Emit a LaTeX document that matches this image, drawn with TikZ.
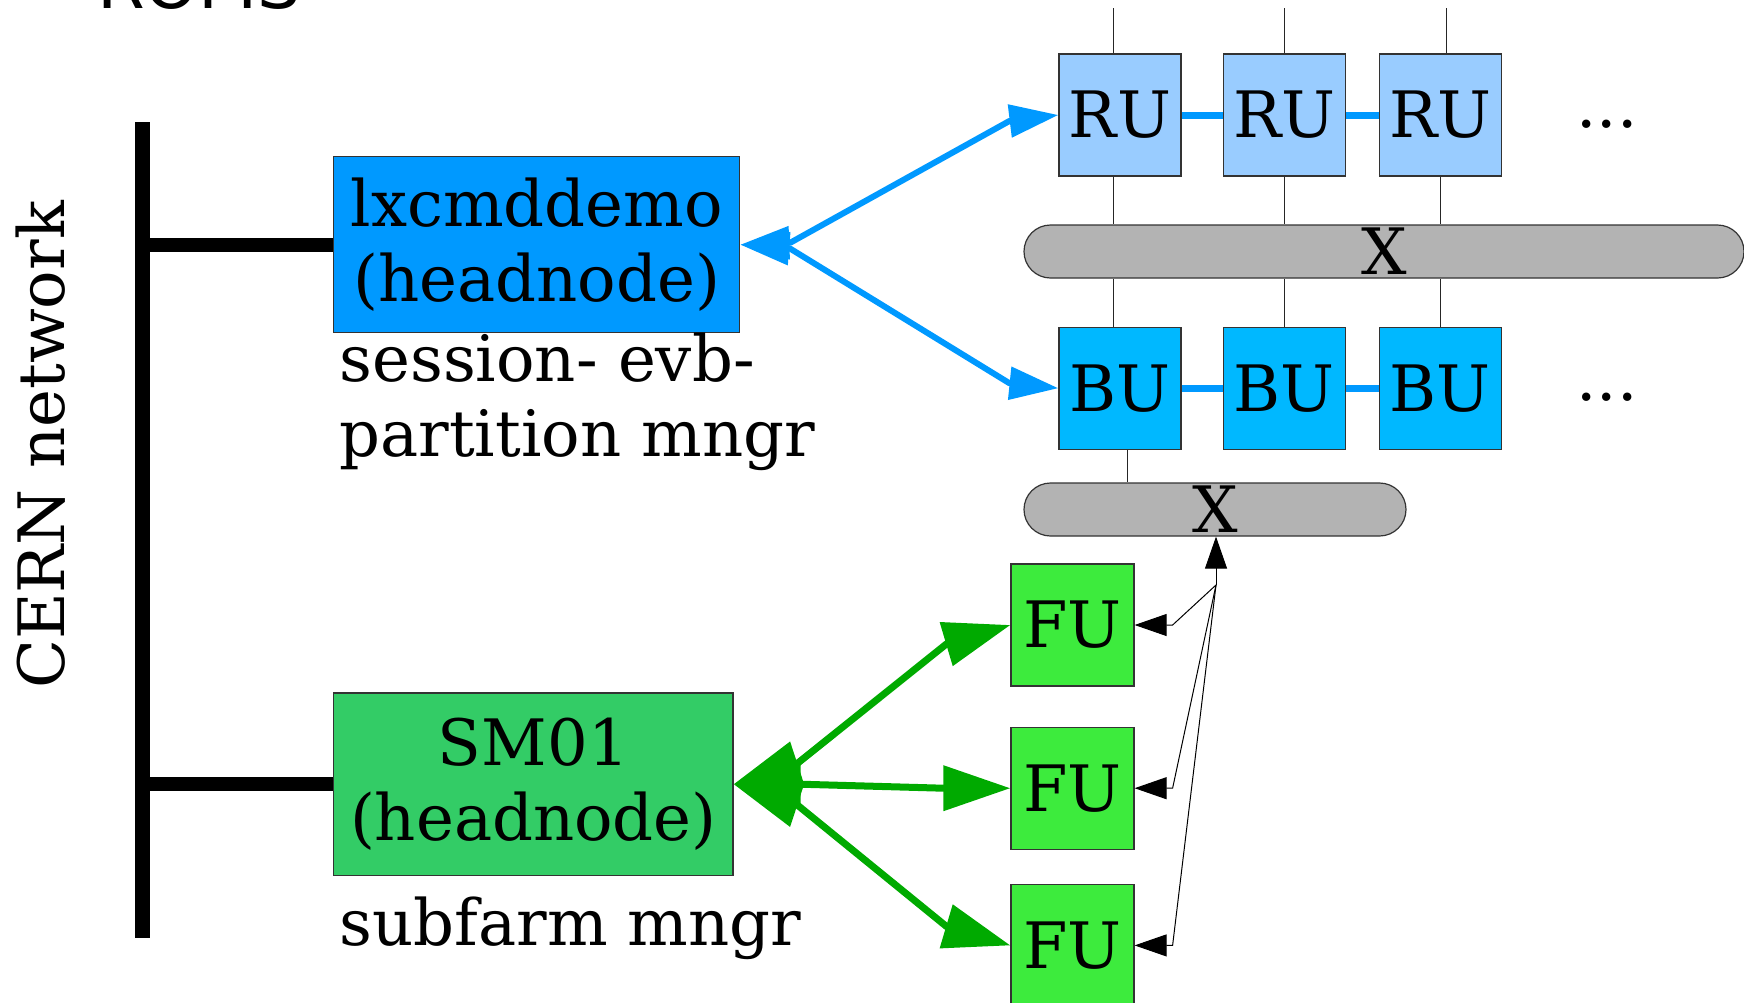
\documentclass[tikz,border=0pt]{standalone}
\usepackage{fontspec}
\setmainfont{DejaVu Serif}
\newfontfamily\romsfont{DejaVu Sans}
\usepackage{xcolor}
\usepackage{tikz}
\usetikzlibrary{shapes,arrows.meta,positioning,calc}
\definecolor{headblue}{HTML}{0099FF}
\definecolor{headgreen}{HTML}{33CC66}
\definecolor{rublue}{HTML}{99CCFF}
\definecolor{bublue}{HTML}{00B8FF}
\definecolor{fugreen}{HTML}{3DEB3D}
\definecolor{arrowgreen}{HTML}{00AA00}
\definecolor{switchgray}{HTML}{B3B3B3}
\tikzstyle{unit} = [draw=black!80, line width=0.6pt, rectangle,
    minimum width=61pt, minimum height=61pt, inner sep=0pt]
\tikzstyle{headbox} = [unit, align=center]
\tikzstyle{switch} = [draw=black!80, line width=0.6pt, rounded rectangle,
    fill=switchgray, minimum height=26.5pt, inner sep=0pt]
\tikzstyle{wire} = [line width=0.5pt, black!85]
\tikzstyle{chain} = [line width=3.5pt, headblue]
\tikzstyle{backbone} = [line width=7.5pt, black]
\tikzstyle{stub} = [line width=7pt, black]
\tikzstyle{ctrl} = [{Triangle[length=24.5pt,width=16pt]}-{Triangle[length=24.5pt,width=16pt]},
    line width=3pt, line join=round, headblue]
\tikzstyle{farm} = [{Triangle[length=33.5pt,width=22pt]}-{Triangle[length=33.5pt,width=22pt]},
    line width=3.5pt, line join=round, arrowgreen]
\tikzstyle{feed} = [-{Triangle[length=16pt,width=11pt]}, line width=0.5pt, black]
\begin{document}
\begin{tikzpicture}[x=0.5pt, y=-0.5pt, font=\fontsize{32}{37.6}\selectfont]
		\useasboundingbox (0,0) rectangle (1744,1002);
		\node[anchor=base west, font=\romsfont\fontsize{34.3}{40}\selectfont] (roms) at (90,8) {ROMS};
		\node[rotate=90] (cern) at (41,445) {CERN network};
		\coordinate (bartop) at (142,122);
		\coordinate (barbot) at (142,938);
		\coordinate (edge) at (0,8);
		
		\node[headbox, fill=headblue, minimum width=203pt, minimum height=88pt] (lx) at (536.7,244.7) {lxcmddemo\\(headnode)};
		\node[below right=-0.5pt and 3pt of lx.south west, align=left, inner sep=0pt] (lxrole) {session- evb-\\partition mngr};
		\node[headbox, fill=headgreen, minimum width=199.6pt, minimum height=91.2pt] (sm) at (533.4,784.2) {SM01\\(headnode)};
		\node[below right=10pt and 3pt of sm.south west, inner sep=0pt] (smrole) {subfarm mngr};
		
		\node[unit, fill=rublue] (ru1) at (1120,115) {RU};
		\node[unit, fill=rublue, right=20.5pt of ru1] (ru2) {RU};
		\node[unit, fill=rublue, right=16.5pt of ru2] (ru3) {RU};
		\node[inner sep=0pt, right=37pt of ru3, yshift=-4.5pt] (rudots) {...};
		\node[switch, minimum width=360pt] (xb1) at (1384,251.5) {X};
		\node[unit, fill=bublue, below=75pt of ru1] (bu1) {BU};
		\node[unit, fill=bublue, below=75pt of ru2] (bu2) {BU};
		\node[unit, fill=bublue, below=75pt of ru3] (bu3) {BU};
		\node[inner sep=0pt, right=37pt of bu3, yshift=-4.5pt] (budots) {...};
		\node[switch, minimum width=191pt] (xb2) at (1215,509.5) {X};
		
		\node[unit, fill=fugreen, minimum width=61.5pt] (fu1) at (1072.5,625) {FU};
		\node[unit, fill=fugreen, minimum width=61.5pt, below=20pt of fu1] (fu2) {FU};
		\node[unit, fill=fugreen, minimum width=61.5pt, below=17pt of fu2] (fu3) {FU};
		\coordinate (hub) at (1216,585);
		
		% network backbone
		\draw[backbone] (bartop) -- (barbot);
		\draw[stub] (lx.west) -- (lx.west -| bartop);
		\draw[stub] (sm.west) -- (sm.west -| bartop);
		
		% readout and builder rows
		\draw[wire] ([xshift=-3.5pt]ru1.north) -- ([xshift=-3.5pt]ru1.north |- edge);
		\draw[wire] (ru2.north) -- (ru2.north |- edge);
		\draw[wire] ([xshift=3pt]ru3.north) -- ([xshift=3pt]ru3.north |- edge);
		\foreach \u/\s in {1/-3.5pt, 2/0pt, 3/0pt} {
			\draw[wire] ([xshift=\s]ru\u.south) -- ([xshift=\s]ru\u.south |- xb1.north);
			\draw[wire] ([xshift=\s]bu\u.north |- xb1.south) -- ([xshift=\s]bu\u.north);
		}
		\draw[wire] ([xshift=3.5pt]bu1.south) -- ([xshift=3.5pt]bu1.south |- xb2.north);
		\draw[chain] (ru1) -- (ru2);
		\draw[chain] (ru2) -- (ru3);
		\draw[chain] (bu1) -- (bu2);
		\draw[chain] (bu2) -- (bu3);
		\draw[ctrl] (lx.east) -- ++(50,-2) -- ($(ru1.west)+(-49,6)$) -- (ru1.west);
		\draw[ctrl] (lx.east) -- ++(50,4) -- ($(bu1.west)+(-49,-5)$) -- (bu1.west);
		
		% filter farm
		\draw[farm] (sm.east) -- ++(64,-21) -- ($(fu1.west)+(-64,19)$) -- (fu1.west);
		\draw[farm] (sm.east) -- ++(67,0) -- ($(fu2.west)+(-67,0)$) -- (fu2.west);
		\draw[farm] (sm.east) -- ++(64,21) -- ($(fu3.west)+(-64,-19)$) -- (fu3.west);
		\draw[feed] (hub) -- (hub |- xb2.south);
		\foreach \f in {1,2,3}
			\draw[feed] (hub) -- ($(fu\f.east)+(38,0)$) -- (fu\f.east);
	\end{tikzpicture}
\end{document}
